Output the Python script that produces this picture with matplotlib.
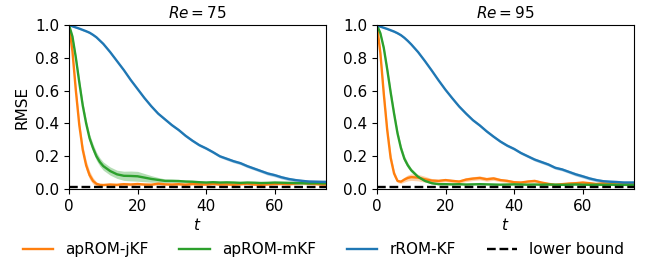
import numpy as np
import matplotlib
matplotlib.use("Agg")
import matplotlib.pyplot as plt

# time grid (fine at start where the filters drop fast)
t = [0, 1, 2, 3, 4, 5, 6, 7, 8, 9, 10, 12, 14, 16, 18, 20, 22, 24, 26, 28, 30,
     32, 34, 36, 38, 40, 42, 44, 46, 48, 50, 52, 54, 56, 58, 60, 62, 64, 66,
     68, 70, 72, 74, 75]

titles = ["$Re = 75$", "$Re = 95$"]
labels = ["apROM-jKF", "apROM-mKF", "rROM-KF", "lower bound"]
lower_bound = 0.01

# Re = 75
jkf_75 = [1.0, 0.84, 0.6, 0.39, 0.24, 0.145, 0.085, 0.05, 0.032, 0.026, 0.025,
          0.028, 0.026, 0.03, 0.028, 0.031, 0.028, 0.027, 0.033, 0.029, 0.028,
          0.03, 0.027, 0.031, 0.029, 0.028, 0.032, 0.028, 0.029, 0.027, 0.03,
          0.033, 0.028, 0.026, 0.029, 0.031, 0.032, 0.03, 0.034, 0.038, 0.033,
          0.031, 0.028, 0.028]
jkf_75_sd = [0.0, 0.02, 0.03, 0.03, 0.03, 0.03, 0.025, 0.02, 0.012, 0.008, 0.006,
             0.006, 0.008, 0.01, 0.008, 0.006, 0.006, 0.006, 0.007, 0.006, 0.006,
             0.006, 0.006, 0.006, 0.007, 0.006, 0.007, 0.006, 0.006, 0.006, 0.006,
             0.007, 0.006, 0.006, 0.006, 0.007, 0.007, 0.007, 0.008, 0.01, 0.008,
             0.007, 0.006, 0.006]
mkf_75 = [1.0, 0.93, 0.8, 0.65, 0.51, 0.4, 0.31, 0.25, 0.2, 0.165, 0.14,
          0.11, 0.09, 0.081, 0.08, 0.078, 0.07, 0.062, 0.056, 0.05, 0.05,
          0.049, 0.046, 0.045, 0.042, 0.04, 0.042, 0.04, 0.041, 0.04, 0.038,
          0.04, 0.039, 0.037, 0.038, 0.04, 0.039, 0.038, 0.037, 0.036, 0.035,
          0.036, 0.035, 0.035]
mkf_75_sd = [0.0, 0.01, 0.02, 0.025, 0.025, 0.025, 0.025, 0.025, 0.025, 0.025, 0.025,
             0.025, 0.025, 0.028, 0.03, 0.03, 0.025, 0.02, 0.015, 0.012, 0.01,
             0.01, 0.009, 0.008, 0.008, 0.007, 0.007, 0.006, 0.006, 0.006, 0.006,
             0.006, 0.006, 0.006, 0.006, 0.006, 0.006, 0.006, 0.006, 0.006, 0.006,
             0.006, 0.006, 0.006]
kf_75 = [1.0, 0.992, 0.985, 0.978, 0.97, 0.962, 0.953, 0.94, 0.925, 0.905, 0.885,
         0.835, 0.78, 0.725, 0.665, 0.61, 0.555, 0.505, 0.46, 0.425, 0.39,
         0.36, 0.325, 0.295, 0.268, 0.248, 0.225, 0.2, 0.185, 0.17, 0.158,
         0.14, 0.125, 0.11, 0.095, 0.085, 0.072, 0.062, 0.055, 0.05, 0.046,
         0.045, 0.044, 0.044]
kf_75_sd = [0.0, 0.004, 0.005, 0.005, 0.006, 0.006, 0.006, 0.006, 0.006, 0.006, 0.006,
            0.006, 0.006, 0.006, 0.006, 0.006, 0.007, 0.007, 0.007, 0.008, 0.008,
            0.008, 0.008, 0.008, 0.008, 0.008, 0.008, 0.008, 0.009, 0.009, 0.009,
            0.009, 0.009, 0.009, 0.01, 0.01, 0.01, 0.01, 0.01, 0.01, 0.01,
            0.01, 0.01, 0.01]

# Re = 95
jkf_95 = [1.0, 0.83, 0.58, 0.36, 0.19, 0.095, 0.05, 0.045, 0.058, 0.068, 0.073,
          0.07, 0.06, 0.052, 0.05, 0.055, 0.05, 0.046, 0.058, 0.064, 0.068,
          0.06, 0.065, 0.055, 0.05, 0.042, 0.04, 0.046, 0.05, 0.04, 0.032,
          0.026, 0.03, 0.034, 0.036, 0.04, 0.036, 0.031, 0.035, 0.031, 0.04,
          0.032, 0.03, 0.03]
jkf_95_sd = [0.0, 0.02, 0.03, 0.03, 0.03, 0.02, 0.01, 0.01, 0.015, 0.018, 0.02,
             0.02, 0.018, 0.012, 0.01, 0.01, 0.01, 0.01, 0.012, 0.012, 0.012,
             0.012, 0.012, 0.01, 0.01, 0.009, 0.009, 0.009, 0.009, 0.008, 0.008,
             0.007, 0.008, 0.008, 0.008, 0.008, 0.008, 0.008, 0.008, 0.008, 0.01,
             0.008, 0.008, 0.008]
mkf_95 = [1.0, 0.95, 0.86, 0.73, 0.59, 0.46, 0.34, 0.25, 0.185, 0.145, 0.115,
          0.075, 0.05, 0.036, 0.03, 0.03, 0.029, 0.03, 0.028, 0.029, 0.03,
          0.029, 0.028, 0.027, 0.028, 0.029, 0.028, 0.027, 0.028, 0.027, 0.028,
          0.027, 0.026, 0.027, 0.028, 0.027, 0.026, 0.027, 0.026, 0.027, 0.026,
          0.026, 0.025, 0.025]
mkf_95_sd = [0.0, 0.01, 0.015, 0.02, 0.02, 0.02, 0.02, 0.02, 0.018, 0.015, 0.012,
             0.008, 0.006, 0.005, 0.004, 0.004, 0.004, 0.004, 0.004, 0.004, 0.004,
             0.004, 0.004, 0.004, 0.004, 0.004, 0.004, 0.004, 0.004, 0.004, 0.004,
             0.004, 0.004, 0.004, 0.004, 0.004, 0.004, 0.004, 0.004, 0.004, 0.004,
             0.004, 0.004, 0.004]
kf_95 = [1.0, 0.99, 0.983, 0.976, 0.968, 0.96, 0.95, 0.938, 0.922, 0.903, 0.882,
         0.835, 0.78, 0.722, 0.662, 0.605, 0.553, 0.503, 0.46, 0.42, 0.388,
         0.352, 0.32, 0.29, 0.265, 0.245, 0.22, 0.2, 0.18, 0.165, 0.15,
         0.13, 0.12, 0.105, 0.09, 0.078, 0.065, 0.055, 0.048, 0.045, 0.043,
         0.04, 0.04, 0.04]
kf_95_sd = [0.0, 0.004, 0.005, 0.005, 0.006, 0.006, 0.006, 0.006, 0.006, 0.006, 0.006,
            0.006, 0.006, 0.006, 0.006, 0.006, 0.007, 0.007, 0.007, 0.008, 0.008,
            0.008, 0.008, 0.008, 0.008, 0.008, 0.008, 0.008, 0.009, 0.009, 0.009,
            0.009, 0.009, 0.009, 0.01, 0.01, 0.01, 0.01, 0.01, 0.01, 0.01,
            0.01, 0.01, 0.01]

panels = [
    [(jkf_75, jkf_75_sd), (mkf_75, mkf_75_sd), (kf_75, kf_75_sd)],
    [(jkf_95, jkf_95_sd), (mkf_95, mkf_95_sd), (kf_95, kf_95_sd)],
]
colors = ["tab:orange", "tab:green", "tab:blue"]

plt.rcParams["font.size"] = 11
plt.rcParams["mathtext.fontset"] = "dejavusans"

fig = plt.figure(figsize=(6.51, 2.63), dpi=100)
ax1 = fig.add_axes([0.106, 0.281, 0.395, 0.624])
ax2 = fig.add_axes([0.579, 0.281, 0.395, 0.624])

tt = np.array(t)
handles = []
for ax, title, series in zip([ax1, ax2], titles, panels):
    handles = []
    for (mean, sd), c, lab in zip(series, colors, labels):
        m = np.array(mean)
        s = np.array(sd)
        ax.fill_between(tt, m - s, m + s, color=c, alpha=0.35, lw=0)
        h, = ax.plot(tt, m, color=c, lw=1.7, label=lab)
        handles.append(h)
    h, = ax.plot([tt[0], tt[-1]], [lower_bound, lower_bound], "k--", lw=1.7,
                 label=labels[3])
    handles.append(h)
    ax.set_xlim(0, 75)
    ax.set_ylim(0, 1)
    ax.set_xticks([0, 20, 40, 60])
    ax.set_yticks([0, 0.2, 0.4, 0.6, 0.8, 1.0])
    ax.set_xlabel("$t$", labelpad=2.5)
    ax.set_title(title, fontsize=11, pad=5)

ax1.set_ylabel("RMSE")

fig.legend(handles, labels, loc="lower center", ncol=4, frameon=False,
           bbox_to_anchor=(0.497, -0.03))

fig.savefig("out.png", dpi=100)
